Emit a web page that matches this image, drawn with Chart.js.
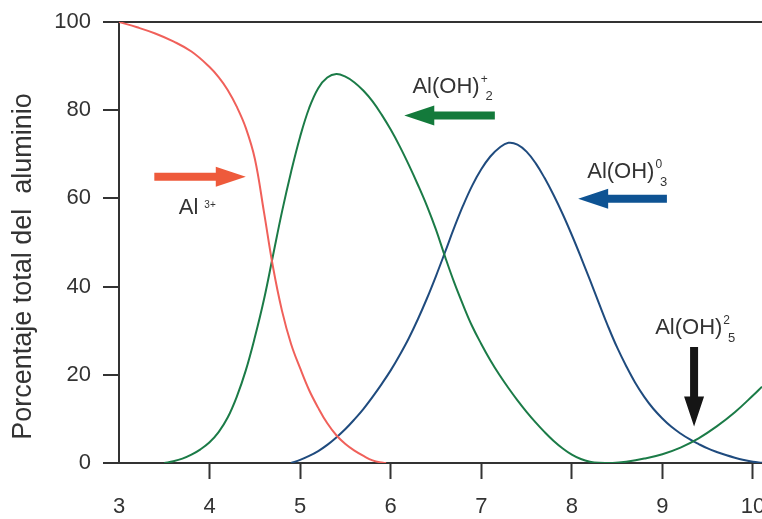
<!DOCTYPE html>
<html>
<head>
<meta charset="utf-8">
<script src="https://cdn.jsdelivr.net/npm/chart.js@4.4.1/dist/chart.umd.min.js"></script>
<style>
    html, body { margin: 0; padding: 0; background: #fff; }
    #wrap { width: 762px; height: 519px; position: relative; }
</style>
</head>
<body>
<div id="wrap"><canvas id="alChart"></canvas></div>
<script>
// pH values and % of total aluminium for each species
const phAl3 = [3.0, 3.2, 3.4, 3.6, 3.8, 4.0, 4.1, 4.2, 4.3, 4.4, 4.5, 4.6, 4.7, 4.8, 4.9, 5.0, 5.1, 5.2, 5.3, 5.4, 5.5, 5.6, 5.7, 5.8, 5.9, 5.95];
const pctAl3 = [100, 98.8, 97.4, 95.6, 93.3, 89.8, 87.5, 84.6, 80.8, 76, 69, 57, 44.5, 34.5, 27, 21.5, 16.5, 12.5, 9, 6.3, 4.3, 2.8, 1.6, 0.6, 0.1, 0];

const phAlOH2 = [3.5, 3.6, 3.7, 3.8, 3.9, 4.0, 4.1, 4.2, 4.3, 4.4, 4.5, 4.6, 4.7, 4.8, 4.9, 5.0, 5.1, 5.2, 5.3, 5.4, 5.5, 5.6, 5.7, 5.8, 5.9,
    6.0, 6.1, 6.2, 6.3, 6.4, 6.5, 6.6, 6.7, 6.8, 6.9, 7.0, 7.1, 7.2, 7.3, 7.4, 7.5, 7.6, 7.7, 7.8, 7.9,
    8.0, 8.1, 8.2, 8.3, 8.45, 8.6, 8.8, 9.0, 9.2, 9.4, 9.6, 9.8, 10.0, 10.1];
const pctAlOH2 = [0, 0.4, 1.0, 1.9, 3.1, 4.7, 7, 10.3, 15, 21, 28.5, 37, 47, 57, 66, 74, 80.5, 85, 87.4, 88.2, 87.6, 86.3, 84.4, 82, 79,
    75.6, 71.8, 67.6, 63.1, 58.3, 52.9, 46.8, 41, 35.8, 31, 27, 23.3, 20, 17, 14.2, 11.6, 9.2, 7, 5, 3.3,
    1.9, 0.9, 0.3, 0.05, 0, 0.3, 1, 2, 3.5, 5.6, 8.3, 11.5, 15.3, 17.3];

const phAlOH3 = [4.9, 5.0, 5.1, 5.2, 5.3, 5.4, 5.5, 5.6, 5.7, 5.8, 5.9, 6.0, 6.1, 6.2, 6.3, 6.4, 6.5, 6.6, 6.7, 6.8, 6.9,
    7.0, 7.1, 7.2, 7.3, 7.4, 7.5, 7.6, 7.7, 7.8, 7.9, 8.0, 8.1, 8.2, 8.3, 8.4, 8.5, 8.6, 8.7, 8.8, 8.9,
    9.0, 9.1, 9.2, 9.3, 9.4, 9.5, 9.6, 9.7, 9.8, 9.9, 10.0, 10.1];
const pctAlOH3 = [0, 0.7, 1.6, 2.7, 4.1, 5.8, 7.7, 9.9, 12.3, 15, 17.9, 21, 24.5, 28.3, 32.6, 37.3, 42.4, 47.8, 53.3, 58.4, 62.9,
    66.6, 69.5, 71.5, 72.6, 72.2, 70.6, 68, 64.6, 60.7, 56.4, 51.7, 46.7, 41.5, 36.2, 31, 26.2, 22, 18.2, 15, 12.3,
    10.1, 8.2, 6.7, 5.4, 4.3, 3.3, 2.5, 1.8, 1.2, 0.7, 0.3, 0.05];

const xTicks = [3, 4, 5, 6, 7, 8, 9, 10];
const yTicks = [0, 20, 40, 60, 80, 100];
const yTitle = 'Porcentaje total del  aluminio';

// arrows and species labels, in data units
const arrows = [
    { from: [3.39, 64.9], to: [4.40, 64.9], color: '#ee5a3b' },
    { from: [7.15, 78.8], to: [6.15, 78.8], color: '#137a3b' },
    { from: [9.05, 59.9], to: [8.07, 59.9], color: '#0e5393' },
    { from: [9.35, 26.3], to: [9.35, 8.3], color: '#151515' }
];
const speciesLabels = [
    { x: 3.66, y: 57.8, base: 'Al', sup: '3+', sub: '', supSize: 10, supDy: -3, gap: 6 },
    { x: 6.24, y: 85.3, base: 'Al(OH)', sup: '+', sub: '2', supSize: 12, supDy: -7, gap: 1 },
    { x: 8.17, y: 66.0, base: 'Al(OH)', sup: '0', sub: '3', supSize: 12, supDy: -7, gap: 1 },
    { x: 8.92, y: 30.6, base: 'Al(OH)', sup: '2', sub: '5', supSize: 12, supDy: -7, gap: 1 }
];

function toPoints(xs, ys) {
    return xs.map((x, i) => ({ x: x, y: ys[i] }));
}

function drawArrow(ctx, x1, y1, x2, y2, color) {
    const len = Math.hypot(x2 - x1, y2 - y1);
    const ux = (x2 - x1) / len, uy = (y2 - y1) / len;
    const px = -uy, py = ux;
    const headLen = 30, headHalf = 10, shaftHalf = 4;
    const bx = x2 - ux * headLen, by = y2 - uy * headLen;
    ctx.fillStyle = color;
    ctx.beginPath();
    ctx.moveTo(x1 + px * shaftHalf, y1 + py * shaftHalf);
    ctx.lineTo(bx + px * shaftHalf, by + py * shaftHalf);
    ctx.lineTo(bx + px * headHalf, by + py * headHalf);
    ctx.lineTo(x2, y2);
    ctx.lineTo(bx - px * headHalf, by - py * headHalf);
    ctx.lineTo(bx - px * shaftHalf, by - py * shaftHalf);
    ctx.lineTo(x1 - px * shaftHalf, y1 - py * shaftHalf);
    ctx.closePath();
    ctx.fill();
}

const annotationPlugin = {
    id: 'speciesAnnotations',
    afterDatasetsDraw(chart) {
        const ctx = chart.ctx;
        const xs = chart.scales.x, ys = chart.scales.y;
        ctx.save();
        arrows.forEach(a => {
            drawArrow(ctx,
                xs.getPixelForValue(a.from[0]), ys.getPixelForValue(a.from[1]),
                xs.getPixelForValue(a.to[0]), ys.getPixelForValue(a.to[1]), a.color);
        });
        ctx.fillStyle = '#333';
        ctx.textBaseline = 'middle';
        ctx.textAlign = 'left';
        speciesLabels.forEach(l => {
            const x = xs.getPixelForValue(l.x), y = ys.getPixelForValue(l.y);
            ctx.font = '22px "Liberation Sans", Arial, sans-serif';
            ctx.fillText(l.base, x, y);
            const w = ctx.measureText(l.base).width;
            ctx.font = l.supSize + 'px "Liberation Sans", Arial, sans-serif';
            ctx.fillText(l.sup, x + w + l.gap, y + l.supDy);
            const sw = ctx.measureText(l.sup).width;
            if (l.sub) {
                ctx.font = '13px "Liberation Sans", Arial, sans-serif';
                ctx.fillText(l.sub, x + w + l.gap + sw * 0.7, y + 10);
            }
        });
        // y axis title
        ctx.font = '27px "Liberation Sans", Arial, sans-serif';
        ctx.textAlign = 'center';
        ctx.translate(24, (chart.chartArea.top + chart.chartArea.bottom) / 2 + 24);
        ctx.rotate(-Math.PI / 2);
        ctx.fillText(yTitle, 0, 0);
        ctx.restore();
    }
};

const tickFont = { family: '"Liberation Sans", Arial, sans-serif', size: 22 };

new Chart(document.getElementById('alChart'), {
    type: 'line',
    data: {
        datasets: [
            {
                label: 'Al 3+',
                data: toPoints(phAl3, pctAl3),
                borderColor: '#f0605a',
                borderWidth: 2
            },
            {
                label: 'Al(OH)2+',
                data: toPoints(phAlOH2, pctAlOH2),
                borderColor: '#1b7b47',
                borderWidth: 2
            },
            {
                label: 'Al(OH)3',
                data: toPoints(phAlOH3, pctAlOH3),
                borderColor: '#1f4b7e',
                borderWidth: 2
            }
        ]
    },
    options: {
        responsive: true,
        maintainAspectRatio: false,
        animation: false,
        layout: { padding: { top: 22, left: 0, right: 0, bottom: 0 } },
        elements: {
            point: { radius: 0 },
            line: { tension: 0.4, fill: false }
        },
        plugins: {
            legend: { display: false },
            tooltip: { enabled: false }
        },
        scales: {
            x: {
                type: 'linear',
                min: 3,
                max: 10.1,
                afterBuildTicks: axis => {
                    axis.ticks = xTicks.map(v => ({ value: v }));
                },
                afterFit: scale => {
                    scale.height = 56;
                    scale.paddingLeft = 0;
                    scale.paddingRight = 0;
                },
                border: { display: true, color: '#333', width: 2 },
                grid: {
                    drawOnChartArea: false,
                    tickLength: 16,
                    tickWidth: 2,
                    tickColor: ctx => ctx.tick && ctx.tick.value === 3 ? 'rgba(0,0,0,0)' : '#333'
                },
                ticks: {
                    color: '#333',
                    font: tickFont,
                    padding: 15,
                    maxRotation: 0
                }
            },
            y: {
                min: 0,
                max: 100,
                afterBuildTicks: axis => {
                    axis.ticks = yTicks.map(v => ({ value: v }));
                },
                afterFit: scale => {
                    scale.width = 119;
                    scale.paddingTop = 0;
                    scale.paddingBottom = 0;
                },
                border: { display: true, color: '#333', width: 2 },
                grid: {
                    tickLength: 16,
                    lineWidth: 2,
                    tickWidth: 2,
                    color: ctx => ctx.tick && ctx.tick.value === 100 ? '#333' : 'rgba(0,0,0,0)',
                    tickColor: '#333'
                },
                ticks: {
                    color: '#333',
                    font: tickFont,
                    padding: 12
                }
            }
        }
    },
    plugins: [annotationPlugin]
});
</script>
</body>
</html>
